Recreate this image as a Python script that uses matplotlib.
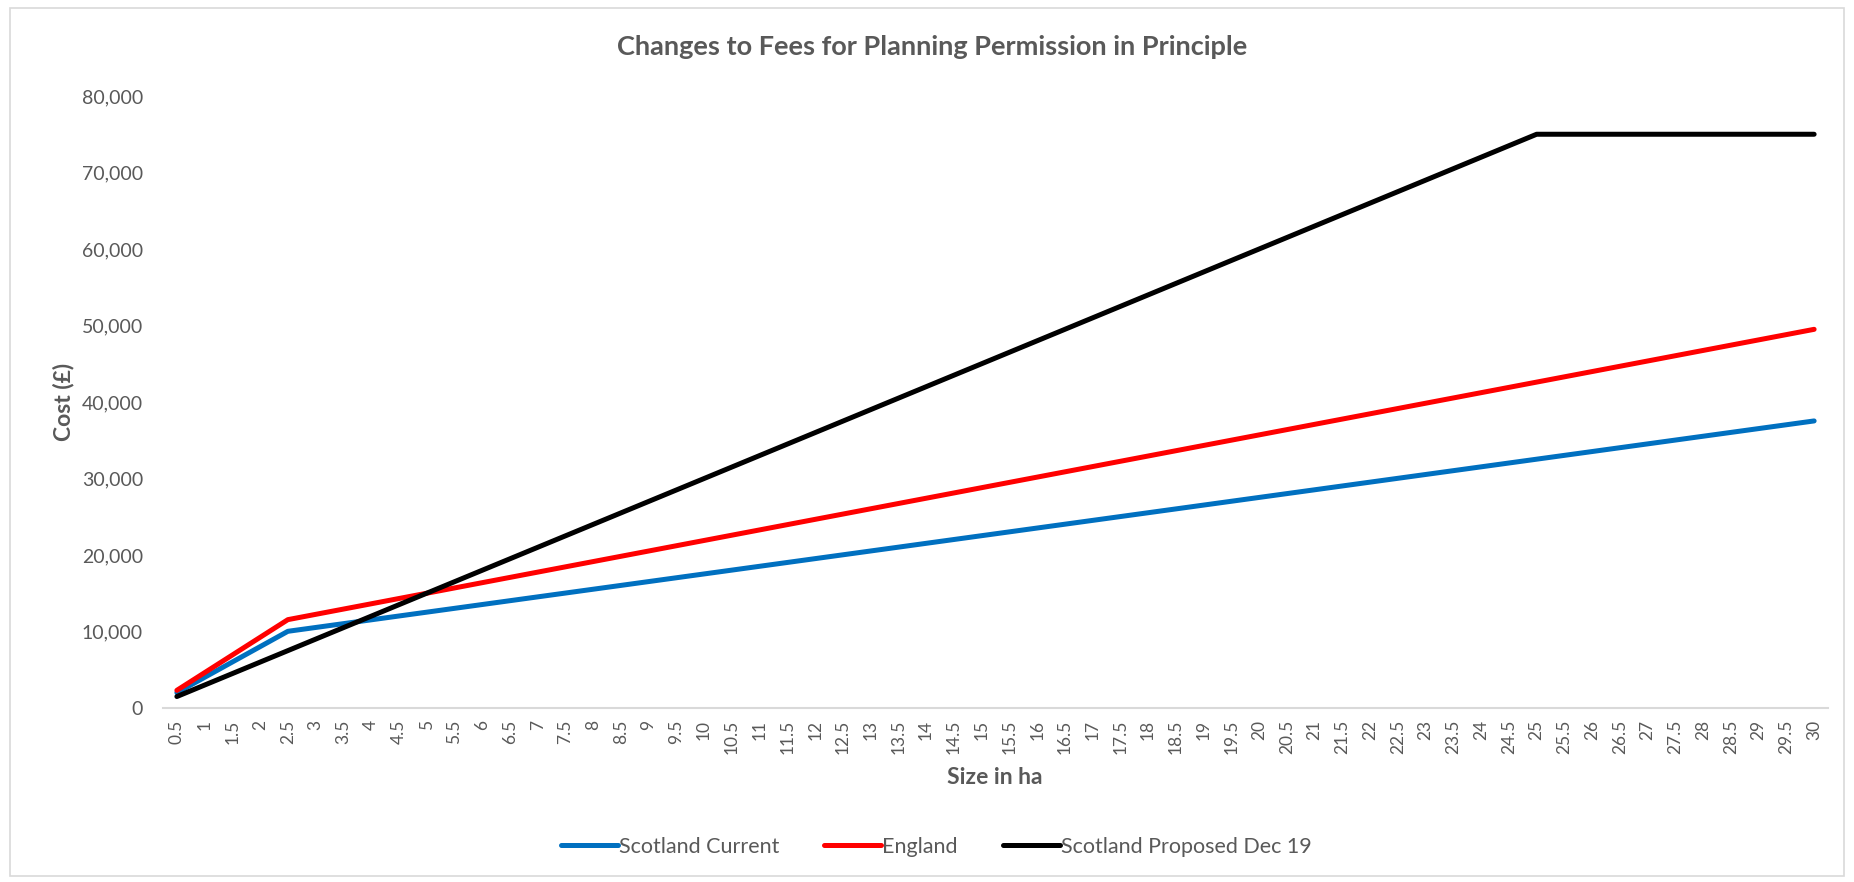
import matplotlib
matplotlib.use("Agg")
import matplotlib.pyplot as plt
from matplotlib.patches import Rectangle
from matplotlib.ticker import FuncFormatter

sizes = ["0.5", "1", "1.5", "2", "2.5", "3", "3.5", "4", "4.5", "5",
         "5.5", "6", "6.5", "7", "7.5", "8", "8.5", "9", "9.5", "10",
         "10.5", "11", "11.5", "12", "12.5", "13", "13.5", "14", "14.5", "15",
         "15.5", "16", "16.5", "17", "17.5", "18", "18.5", "19", "19.5", "20",
         "20.5", "21", "21.5", "22", "22.5", "23", "23.5", "24", "24.5", "25",
         "25.5", "26", "26.5", "27", "27.5", "28", "28.5", "29", "29.5", "30"]

scotland_current = [2005, 4010, 6015, 8020, 10025, 10525, 11025, 11525, 12025, 12525,
                    13025, 13525, 14025, 14525, 15025, 15525, 16025, 16525, 17025, 17525,
                    18025, 18525, 19025, 19525, 20025, 20525, 21025, 21525, 22025, 22525,
                    23025, 23525, 24025, 24525, 25025, 25525, 26025, 26525, 27025, 27525,
                    28025, 28525, 29025, 29525, 30025, 30525, 31025, 31525, 32025, 32525,
                    33025, 33525, 34025, 34525, 35025, 35525, 36025, 36525, 37025, 37525]

england = [2310, 4620, 6930, 9240, 11550, 12240, 12930, 13620, 14310, 15000,
           15690, 16380, 17070, 17760, 18450, 19140, 19830, 20520, 21210, 21900,
           22590, 23280, 23970, 24660, 25350, 26040, 26730, 27420, 28110, 28800,
           29490, 30180, 30870, 31560, 32250, 32940, 33630, 34320, 35010, 35700,
           36390, 37080, 37770, 38460, 39150, 39840, 40530, 41220, 41910, 42600,
           43290, 43980, 44670, 45360, 46050, 46740, 47430, 48120, 48810, 49500]

scotland_proposed = [1500, 3000, 4500, 6000, 7500, 9000, 10500, 12000, 13500, 15000,
                     16500, 18000, 19500, 21000, 22500, 24000, 25500, 27000, 28500, 30000,
                     31500, 33000, 34500, 36000, 37500, 39000, 40500, 42000, 43500, 45000,
                     46500, 48000, 49500, 51000, 52500, 54000, 55500, 57000, 58500, 60000,
                     61500, 63000, 64500, 66000, 67500, 69000, 70500, 72000, 73500, 75000,
                     75000, 75000, 75000, 75000, 75000, 75000, 75000, 75000, 75000, 75000]

grey = "#595959"
plt.rcParams['font.family'] = ['Lato', 'DejaVu Sans']

fig = plt.figure(figsize=(18.54, 8.82), dpi=100)
# light outer chart border
fig.patches.append(Rectangle((10/1854, 6/882), 1-20/1854, 1-14/882, transform=fig.transFigure,
                             fill=False, edgecolor="#d9d9d9", linewidth=1.2))

ax = fig.add_axes([163/1854, 1-708/882, (1828-163)/1854, (708-96)/882])
x = list(range(len(sizes)))
ax.plot(x, scotland_current, color="#0070C0", lw=3.6, solid_capstyle="round",
        solid_joinstyle="round", label="Scotland Current")
ax.plot(x, england, color="#FF0000", lw=3.6, solid_capstyle="round",
        solid_joinstyle="round", label="England")
ax.plot(x, scotland_proposed, color="#000000", lw=3.6, solid_capstyle="round",
        solid_joinstyle="round", label="Scotland Proposed Dec 19")

ax.set_xlim(-0.5, len(sizes)-0.5)
ax.set_ylim(0, 80000)
ax.set_yticks(range(0, 80001, 10000))
ax.yaxis.set_major_formatter(FuncFormatter(lambda v, p: f"{int(v):,}"))
ax.set_xticks(x)
ax.set_xticklabels(sizes, rotation=90)
ax.tick_params(length=0, colors=grey)
ax.tick_params(axis='y', pad=14.4, labelsize=14)
ax.tick_params(axis='x', pad=8.5, labelsize=12.5)
for s in ["top", "right", "left"]:
    ax.spines[s].set_visible(False)
ax.spines["bottom"].set_color("#d9d9d9")
ax.spines["bottom"].set_linewidth(1.5)

fig.text(0.503, 1-47/882, "Changes to Fees for Planning Permission in Principle",
         ha="center", va="center", fontsize=19.5, fontweight="bold", color=grey)
fig.text(63/1854, 1-402/882, "Cost (£)", rotation=90, ha="center", va="center",
         fontsize=16.5, fontweight="bold", color=grey)
fig.text(995/1854, 1-778/882, "Size in ha", ha="center", va="center",
         fontsize=16.5, fontweight="bold", color=grey)

fig.legend(loc="center", bbox_to_anchor=(0.505, 1-847/882), ncol=3, frameon=False,
           fontsize=15.5, labelcolor=grey, handlelength=2.65, handletextpad=0.05,
           columnspacing=2.1)

fig.savefig("out.png", dpi=100)
